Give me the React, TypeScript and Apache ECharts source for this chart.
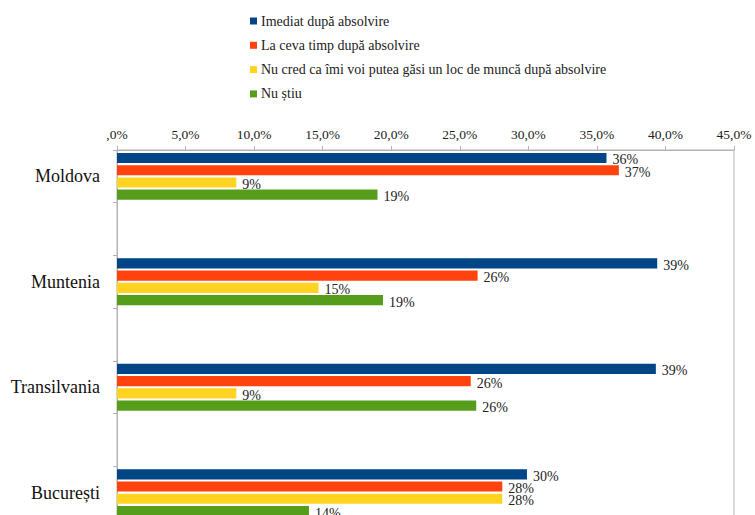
import React, { useEffect, useRef } from "react";
import * as echarts from "echarts";

const categories = ["Moldova", "", "Muntenia", "", "Transilvania", "", "București"];
const seriesNames = [
  "Imediat după absolvire",
  "La ceva timp după absolvire",
  "Nu cred ca îmi voi putea găsi un loc de muncă după absolvire",
  "Nu știu",
];
const imediat = [35.7, "-", 39.4, "-", 39.3, "-", 29.9];
const laCevaTimp = [36.6, "-", 26.3, "-", 25.8, "-", 28.1];
const nuCred = [8.7, "-", 14.7, "-", 8.7, "-", 28.1];
const nuStiu = [19.0, "-", 19.4, "-", 26.2, "-", 14.0];
const colors = ["#004586", "#ff420e", "#ffd320", "#579d1c"];
const xMin = 0;
const xMax = 45;
const xInterval = 5;

const FONT = "Liberation Serif";

export default function App() {
  const ref = useRef<HTMLDivElement>(null);
  useEffect(() => {
    if (!ref.current) return;
    const chart = echarts.init(ref.current, undefined, { renderer: "svg" });
    const allData = [imediat, laCevaTimp, nuCred, nuStiu];
    chart.setOption({
      animation: false,
      color: colors,
      textStyle: { fontFamily: FONT },
      legend: {
        orient: "vertical",
        left: 245,
        top: 9,
        itemWidth: 7,
        itemHeight: 7,
        itemGap: 10.3,
        icon: "rect",
        textStyle: { fontFamily: FONT, fontSize: 14, color: "#222", lineHeight: 14, padding: [0, 0, 0, -1] },
        data: seriesNames,
      },
      grid: {
        left: 117,
        right: 21,
        top: 150,
        bottom: 11,
        show: true,
        borderColor: "#b3b3b3",
        borderWidth: 1,
        containLabel: false,
      },
      xAxis: {
        type: "value",
        position: "top",
        min: xMin,
        max: xMax,
        interval: xInterval,
        axisLine: { show: true, lineStyle: { color: "#b3b3b3" } },
        axisTick: { show: true, length: 4, lineStyle: { color: "#b3b3b3" } },
        splitLine: { show: false },
        axisLabel: {
          fontFamily: FONT,
          fontSize: 13.5,
          color: "#222",
          margin: 9,
          formatter: (v: number) => (v === 0 ? ",0%" : v.toFixed(1).replace(".", ",") + "%"),
        },
      },
      yAxis: {
        type: "category",
        inverse: true,
        data: categories,
        axisLine: { show: true, lineStyle: { color: "#b3b3b3" } },
        axisTick: { show: true, length: 4, lineStyle: { color: "#b3b3b3" } },
        axisLabel: { fontFamily: FONT, fontSize: 18, color: "#111", margin: 17 },
        splitLine: { show: false },
      },
      series: seriesNames.map((name, i) => ({
        name,
        type: "bar",
        data: allData[i],
        barGap: "20%",
        barCategoryGap: "11%",
        itemStyle: { color: colors[i] },
        label: {
          show: true,
          position: "right",
          distance: 6,
          offset: [0, 2],
          fontFamily: FONT,
          fontSize: 14,
          color: "#222",
          formatter: (p: any) => Math.round(Number(p.value)) + "%",
        },
      })),
    });
    return () => chart.dispose();
  }, []);
  return (
    <div style={{ position: "fixed", left: 0, top: 0, width: 755, height: 515, overflow: "hidden", background: "#fff" }}>
      <div ref={ref} style={{ width: 755, height: 530 }} />
    </div>
  );
}
